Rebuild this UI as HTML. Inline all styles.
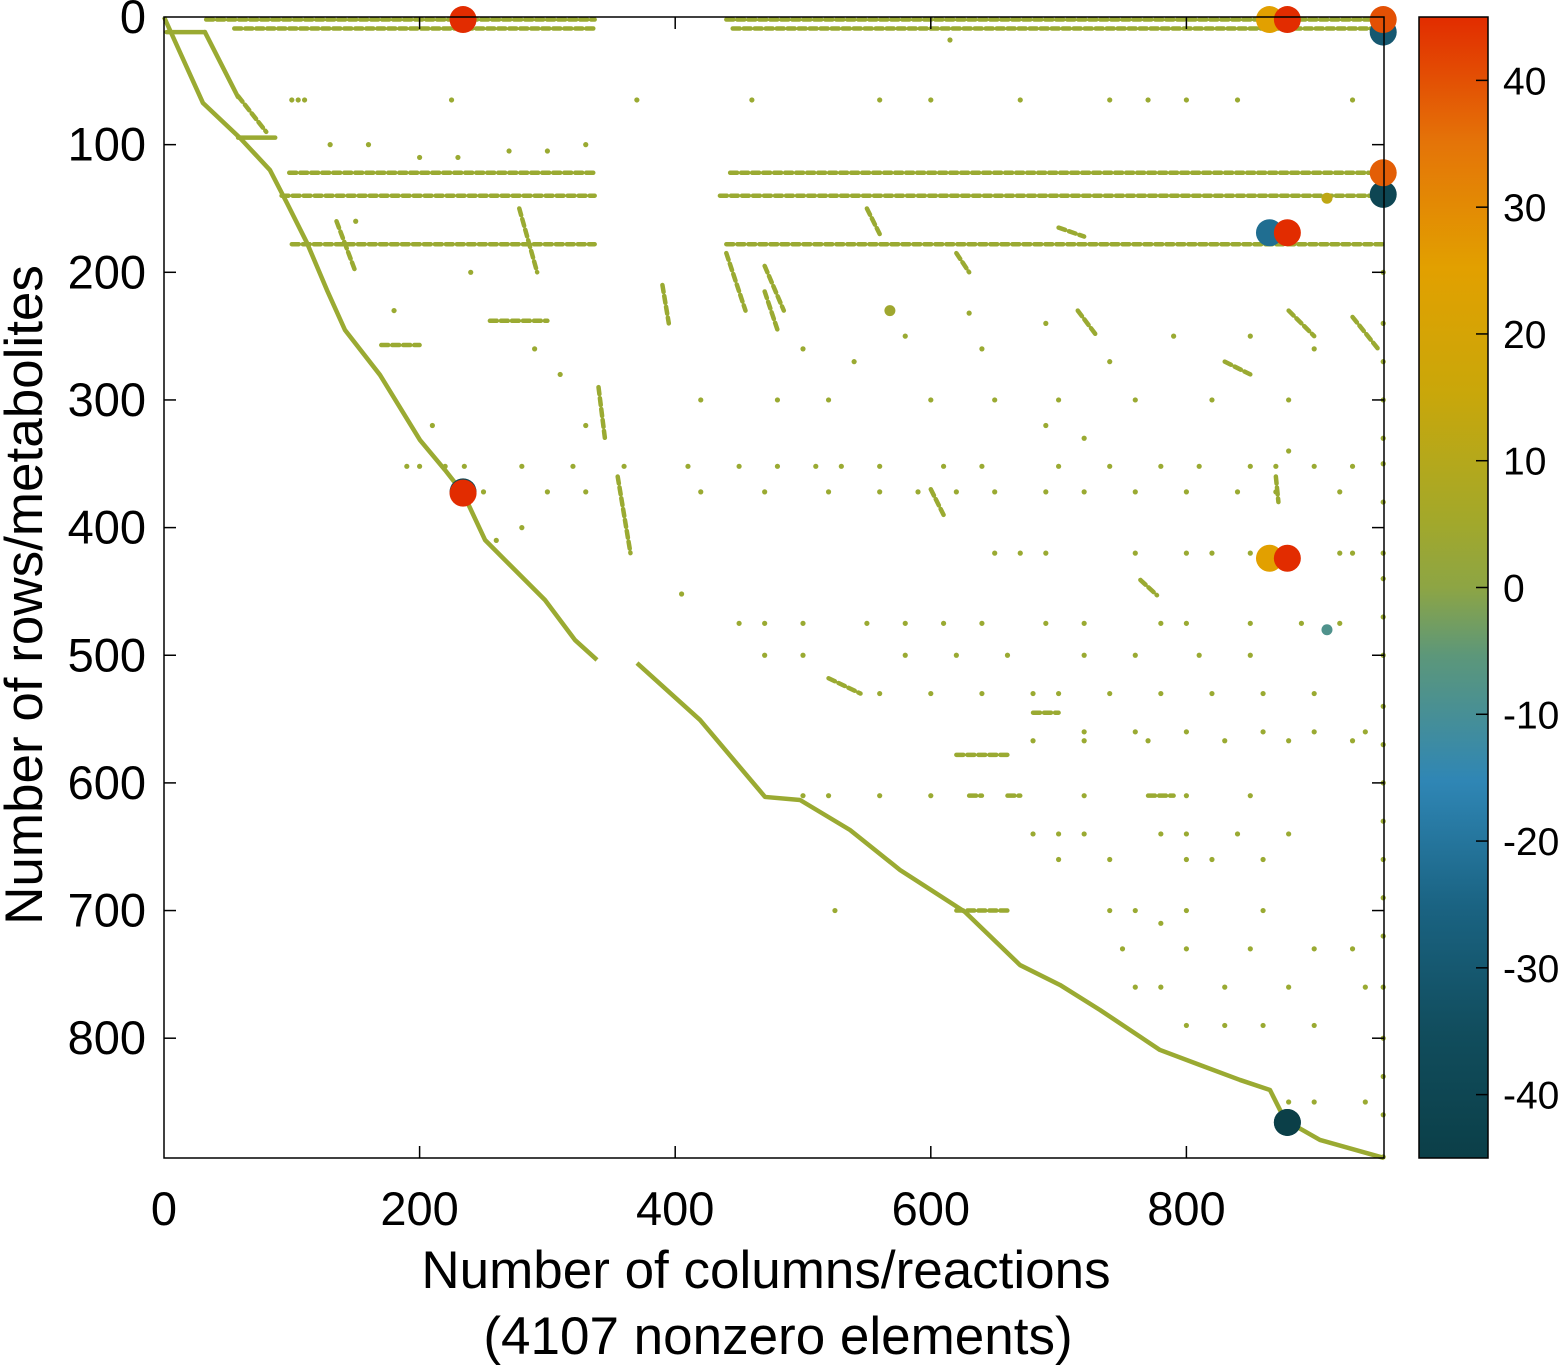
<!DOCTYPE html>
<html><head><meta charset="utf-8"><style>
html,body{margin:0;padding:0;background:#fff;}
svg{display:block;font-family:"Liberation Sans",sans-serif;}
</style></head><body>
<svg id="chart" width="1566" height="1365" viewBox="0 0 1566 1365">
<defs>
<linearGradient id="cbgrad" x1="0" y1="1" x2="0" y2="0">
<stop offset="0" stop-color="#0b3f48"/>
<stop offset="0.11" stop-color="#114d5d"/>
<stop offset="0.22" stop-color="#1a6382"/>
<stop offset="0.33" stop-color="#2f86b5"/>
<stop offset="0.44" stop-color="#5c977a"/>
<stop offset="0.5" stop-color="#8da544"/>
<stop offset="0.56" stop-color="#a3a82a"/>
<stop offset="0.67" stop-color="#c9a70a"/>
<stop offset="0.78" stop-color="#e2a000"/>
<stop offset="0.89" stop-color="#e47408"/>
<stop offset="1" stop-color="#e22c00"/>
</linearGradient>
</defs>
<g id="plot"></g>
</svg>
<script>
// ---- data ----
const xTicks = [0, 200, 400, 600, 800];
const yTicks = [0, 100, 200, 300, 400, 500, 600, 700, 800];
const cbTicks = [40, 30, 20, 10, 0, -10, -20, -30, -40];
// main diagonal path (col,row)
const diagCols = [0,30.5,59.5,82.9,96.2,111.9,127.5,141.6,169,200.3,219.9,234,251.2,270.7,298.1,321.6,338.8];
const diagRows = [0,67.4,94.8,119.9,145.7,177,213.9,245.2,280.4,331.4,354.9,372.9,409.7,429.3,456.7,488.1,503.7];
const diag2Cols = [370.1,419.4,470.3,497.7,536.8,575.9,626.8,669.8,701.1,732.4,779.3,810.6,841.9,865.4,877.2,904.5,954.6];
const diag2Rows = [506.1,550.7,611,613.4,636.9,668.2,701.1,742.7,758.3,777.9,809.2,821,832.7,840.6,864.1,879.7,893.8];
// secondary solid segments [c0,r0,c1,r1]
const solidSegs = [[2,11.8,32,11.8],[32,11.8,57.9,62.7],[58,94.5,87,94.5]];
// dotted runs [c0,r0,c1,r1]
const runs = [
 [33,2,337,2],[440,2,950,2],[55,9,337,9],[445,9,955,9],
 [98,122,337,122],[443,122,955,122],[92,140,337,140],[435,140,955,140],
 [100,178,337,178],[440,178,955,178],
 [58,62,80,90],[170,257,200,257],[255,238,300,238],[135,160,150,200],[278,150,292,200],
 [340,290,345,330],[355,360,365,420],[440,185,455,230],[470,195,485,230],[550,150,560,170],
 [620,185,630,200],[764,441,777,453],[520,518,545,530],[620,578,660,578],[630,610,640,610],
 [660,610,670,610],[770,610,790,610],[620,700,660,700],[680,545,700,545],[600,370,610,390],
 [715,230,730,250],[830,270,850,280],[880,230,900,250],[930,235,950,260],
 [470,215,480,245],[390,210,395,240],[700,165,720,172],[870,360,872,380]
];
// sparse column of entries at the last column
const lastColRows = [200,240,270,300,330,350,380,420,440,470,500,540,570,600,630,660,690,720,760,800,830,860,893];
// scattered single entries
const ptCols = [100,105,110,225,370,460,560,600,670,740,770,800,840,930,
 190,200,220,235,280,320,360,410,450,480,510,530,560,610,640,700,740,780,810,850,870,900,930,
 250,300,330,420,470,520,560,590,620,650,690,720,760,800,840,870,920,
 650,670,690,760,800,820,850,880,920,930,
 450,470,500,550,580,610,640,690,720,780,800,850,890,920,
 470,500,580,620,660,720,760,810,850,
 560,600,640,680,700,740,780,820,860,900,
 720,760,800,860,900,940,680,720,770,830,880,930,
 500,520,560,600,720,800,850,680,700,720,780,800,840,880,
 700,740,800,820,860,740,760,800,860,750,800,850,900,930,
 760,780,830,880,940,800,830,860,900,880,900,940,
 420,480,520,600,650,700,760,820,880,180,150,240,290,310,330,500,540,580,640,690,740,790,850,900,
 130,160,200,230,270,300,330,260,280,210,615,405,525,880,780,630,690,720];
const ptRows = [65,65,65,65,65,65,65,65,65,65,65,65,65,65,
 352,352,352,352,352,352,352,352,352,352,352,352,352,352,352,352,352,352,352,352,352,352,352,
 372,372,372,372,372,372,372,372,372,372,372,372,372,372,372,372,372,
 420,420,420,420,420,420,420,420,420,420,
 475,475,475,475,475,475,475,475,475,475,475,475,475,475,
 500,500,500,500,500,500,500,500,500,
 530,530,530,530,530,530,530,530,530,530,
 560,560,560,560,560,560,567,567,567,567,567,567,
 610,610,610,610,610,610,610,640,640,640,640,640,640,640,
 660,660,660,660,660,700,700,700,700,730,730,730,730,730,
 760,760,760,760,760,790,790,790,790,850,850,850,
 300,300,300,300,300,300,300,300,300,230,160,200,260,280,320,260,270,250,260,240,270,250,250,260,
 100,100,110,110,105,105,100,410,400,320,18,452,700,340,710,232,320,330];
// highlighted entries
const bigCols = [865,954,954,865,234,865,879,879,954,879,954,879,234,879,234];
const bigRows = [2,11.8,139,169,372,424,2,169,2,866,122,424,373,866,2];
const bigVals = [25,-30,-40,-22,-40,25,45,45,40,-45,38,45,45,-45,45];
const medCols = [910,910,568];
const medRows = [142,480,230];
const medVals = [12,-8,4];

// ---- scales ----
const X0=164,X1=1384,Y0=17,Y1=1158;
const xs = c => X0 + c*1.278;
const ys = r => Y0 + r*1.2765;
const CB0=17,CB1=1158;
const cbs = v => CB0 + (45 - v)/90*(CB1-CB0);
const stops=[[-45,[11,63,72]],[-35,[17,77,93]],[-25,[26,99,130]],[-15,[47,134,181]],[-5,[92,151,122]],[0,[141,165,68]],[5,[163,168,42]],[15,[201,167,10]],[25,[226,160,0]],[35,[228,116,8]],[45,[226,44,0]]];
function col(v){
  for(let i=0;i<stops.length-1;i++){
    const a=stops[i],b=stops[i+1];
    if(v<=b[0]){const t=Math.max(0,(v-a[0])/(b[0]-a[0]));
      const c=a[1].map((x,k)=>Math.round(x+(b[1][k]-x)*t));return `rgb(${c})`;}
  }
  return 'rgb(226,44,0)';
}
const NS='http://www.w3.org/2000/svg';
const g=document.getElementById('plot');
function mk(tag,attrs,parent){const e=document.createElementNS(NS,tag);for(const k in attrs)e.setAttribute(k,attrs[k]);(parent||g).appendChild(e);return e;}
const DOT='#9aaa32';

// runs
runs.forEach(s=>{
  const e=mk('line',{x1:xs(s[0]),y1:ys(s[1]),x2:xs(s[2]),y2:ys(s[3]),stroke:DOT,'stroke-width':4.5,'stroke-dasharray':'7 4','stroke-linecap':'round'});
  
  
});
// solid segs
solidSegs.forEach(s=>{
  const e=mk('line',{x1:xs(s[0]),y1:ys(s[1]),x2:xs(s[2]),y2:ys(s[3]),stroke:DOT,'stroke-width':4.5,'stroke-linecap':'round'});
  
  
});
// diagonals
[[diagCols,diagRows],[diag2Cols,diag2Rows]].forEach(p=>{
  const e=mk('polyline',{points:p[0].map((c,i)=>xs(c)+','+ys(p[1][i])).join(' '),fill:'none',stroke:DOT,'stroke-width':4.5,'stroke-linejoin':'round'});
  
  
});
// points
ptCols.forEach((c,i)=>{
  const e=mk('circle',{cx:xs(c),cy:ys(ptRows[i]),r:2.6,fill:DOT});
  
  
});
lastColRows.forEach(r=>{
  const e=mk('circle',{cx:xs(954),cy:ys(r),r:2.6,fill:DOT});
  
  
});
medCols.forEach((c,i)=>{
  const e=mk('circle',{cx:xs(c),cy:ys(medRows[i]),r:5.5,fill:col(medVals[i])});
  
  
});
bigCols.forEach((c,i)=>{
  const e=mk('circle',{cx:xs(c),cy:ys(bigRows[i]),r:13.5,fill:col(bigVals[i])});
  
  
});

// frame
const fr=mk('rect',{x:X0,y:Y0,width:X1-X0,height:Y1-Y0,fill:'none',stroke:'#000','stroke-width':1.5});


xTicks.forEach(t=>{
  const x=xs(t);
  if(t>0){mk('line',{x1:x,y1:Y1,x2:x,y2:Y1-12,stroke:'#000','stroke-width':1.5});
  mk('line',{x1:x,y1:Y0,x2:x,y2:Y0+12,stroke:'#000','stroke-width':1.5});}
  const e=mk('text',{x:x,y:1225,'font-size':47,'text-anchor':'middle',fill:'#000'});
  e.textContent=t;
  
  
});
yTicks.forEach(t=>{
  const y=ys(t);
  if(t>0){mk('line',{x1:X0,y1:y,x2:X0+12,y2:y,stroke:'#000','stroke-width':1.5});
  mk('line',{x1:X1,y1:y,x2:X1-12,y2:y,stroke:'#000','stroke-width':1.5});}
  const e=mk('text',{x:146,y:y+16,'font-size':47,'text-anchor':'end',fill:'#000'});
  e.textContent=t;
  
  
});
// colorbar
const cb=mk('rect',{x:1419,y:CB0,width:69,height:CB1-CB0,fill:'url(#cbgrad)',stroke:'#000','stroke-width':1.5});


cbTicks.forEach(t=>{
  const y=cbs(t);
  mk('line',{x1:1488,y1:y,x2:1476,y2:y,stroke:'#000','stroke-width':1.5});
  const e=mk('text',{x:1503,y:y+14,'font-size':39,fill:'#000'});
  e.textContent=t;
  
  
});
// titles
const xt=mk('text',{x:766,y:1288,'font-size':53,'text-anchor':'middle',fill:'#000'});
xt.textContent='Number of columns/reactions';


const xt2=mk('text',{x:778,y:1354,'font-size':53,'text-anchor':'middle',fill:'#000'});
xt2.textContent='(4107 nonzero elements)';


const yt=mk('text',{x:0,y:0,'font-size':53,'text-anchor':'middle',fill:'#000',transform:'translate(42,595) rotate(-90)'});
yt.textContent='Number of rows/metabolites';


</script>
</body></html>
